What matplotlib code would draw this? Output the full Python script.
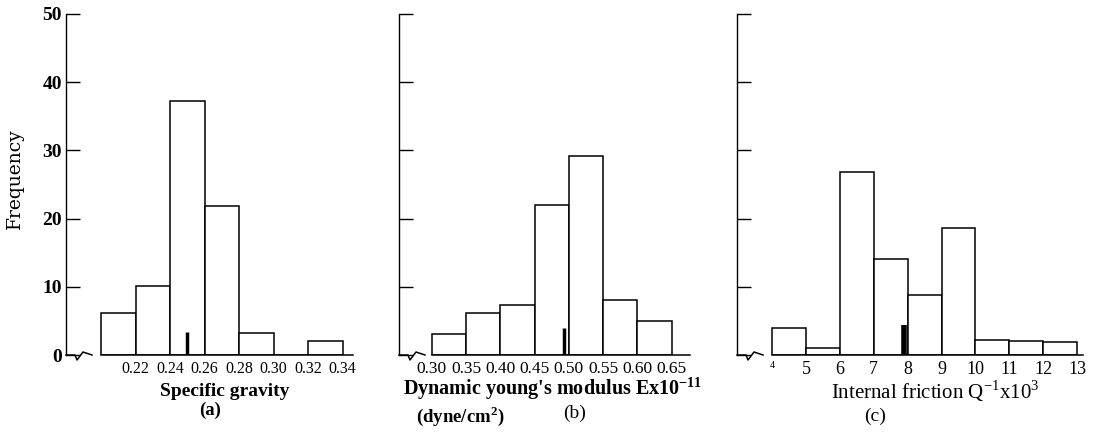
import matplotlib
matplotlib.use("Agg")
import matplotlib.pyplot as plt
import numpy as np

plt.rcParams['font.family'] = ['Liberation Serif', 'DejaVu Serif']
plt.rcParams['mathtext.fontset'] = 'custom'
plt.rcParams['mathtext.rm'] = 'Liberation Serif'
plt.rcParams['mathtext.bf'] = 'Liberation Serif:bold'

# (a) specific gravity
sg_edges = [0.20, 0.22, 0.24, 0.26, 0.28, 0.30, 0.32, 0.34]
sg_counts = [6.1, 10.1, 37.3, 21.9, 3.2, 0.0, 2.1]
sg_mean = [0.2497, 3.4]
sg_ticks = [0.22, 0.24, 0.26, 0.28, 0.30, 0.32, 0.34]
sg_labels = ["0.22", "0.24", "0.26", "0.28", "0.30", "0.32", "0.34"]

# (b) dynamic young's modulus
ym_edges = [0.30, 0.35, 0.40, 0.45, 0.50, 0.55, 0.60, 0.65]
ym_counts = [3.1, 6.2, 7.3, 22.0, 29.2, 8.1, 5.0]
ym_mean = [0.493, 4.0]
ym_ticks = [0.30, 0.35, 0.40, 0.45, 0.50, 0.55, 0.60, 0.65]
ym_labels = ["0.30", "0.35", "0.40", "0.45", "0.50", "0.55", "0.60", "0.65"]

# (c) internal friction
if_edges = [4, 5, 6, 7, 8, 9, 10, 11, 12, 13]
if_counts = [4.0, 1.0, 26.8, 14.1, 8.8, 18.6, 2.2, 2.0, 1.9]
if_mean = [7.88, 4.4]
if_ticks = [4, 5, 6, 7, 8, 9, 10, 11, 12, 13]
if_labels = ["4", "5", "6", "7", "8", "9", "10", "11", "12", "13"]

freq_ticks = [0, 10, 20, 30, 40, 50]

W, H = 1100, 445
fig = plt.figure(figsize=(W / 100, H / 100), dpi=100)


def px(x, y):
    """pixel (top-left origin) -> figure fraction"""
    return x / W, 1 - y / H


def panneau(rect_px, xlim, edges, counts, mean, ticks, labels, tick_size, mean_lw):
    left, right = rect_px
    top, bottom = 14, 355
    ax = fig.add_axes([left / W, (H - bottom) / H, (right - left) / W, (bottom - top) / H])
    widths = np.diff(edges)
    ax.bar(edges[:-1], counts, width=widths, align='edge',
           facecolor='white', edgecolor='black', linewidth=1.1, zorder=2)
    ax.plot([mean[0], mean[0]], [0, mean[1]], color='black', lw=mean_lw,
            solid_capstyle='butt', zorder=3)

    ax.set_xlim(*xlim)
    ax.set_ylim(0, 50)
    for s in ['top', 'right', 'bottom']:
        ax.spines[s].set_visible(False)
    ax.spines['left'].set_linewidth(1.0)

    ax.set_xticks(ticks)
    ax.set_xticklabels(labels, fontsize=tick_size)
    ax.tick_params(axis='x', length=0, pad=4)
    ax.set_yticks(freq_ticks)
    ax.tick_params(axis='y', direction='in', length=10, width=1.0, pad=3)

    # axis break: short stub, zigzag, then the baseline under the bars
    aw, ah = right - left, bottom - top
    zx = np.array([0, 9, 11, 17, 26]) / aw
    zy = np.array([0, 0, -5, 3, 0]) / ah
    ax.plot(zx, zy, color='black', lw=1.1, transform=ax.transAxes, clip_on=False)
    ax.plot([edges[0], xlim[1]], [0, 0], color='black', lw=1.1, clip_on=False, zorder=4)
    return ax


ax1 = panneau((66, 353), (0.1797, 0.346), sg_edges, sg_counts, sg_mean,
              sg_ticks, sg_labels, 11.5, 2.5)
ax1.set_yticklabels([str(v) for v in freq_ticks], fontsize=14, fontweight='bold')

ax2 = panneau((399, 690), (0.252, 0.677), ym_edges, ym_counts, ym_mean,
              ym_ticks, ym_labels, 12.5, 2.5)
ax2.set_yticklabels([])

ax3 = panneau((737, 1083), (2.968, 13.17), if_edges, if_counts, if_mean,
              if_ticks, if_labels, 13, 4)
ax3.set_yticklabels([])
ax3.get_xticklabels()[0].set_fontsize(7)

fig.text(*px(15, 179), "Frequency", rotation=90, ha='center', va='center',
         fontsize=13.5, family='DejaVu Serif')

fig.text(*px(225, 391), "Specific gravity", ha='center', va='center',
         fontsize=14, fontweight='bold')
fig.text(*px(210, 410), "(a)", ha='center', va='center', fontsize=13.5, fontweight='bold')

fig.text(*px(553, 389), r"Dynamic young's modulus Ex10$^{\mathbf{-11}}$", ha='center',
         va='center', fontsize=14.5, fontweight='bold')
fig.text(*px(460, 416), r"(dyne/cm$^{\mathbf{2}}$)", ha='center', va='center',
         fontsize=13.5, fontweight='bold')
fig.text(*px(575, 413), "(b)", ha='center', va='center', fontsize=14)

fig.text(*px(935, 391), r"Internal friction Q$^{-1}$x10$^{3}$", ha='center',
         va='center', fontsize=15)
fig.text(*px(875, 416), "(c)", ha='center', va='center', fontsize=14)

fig.savefig("out.png", dpi=100)
